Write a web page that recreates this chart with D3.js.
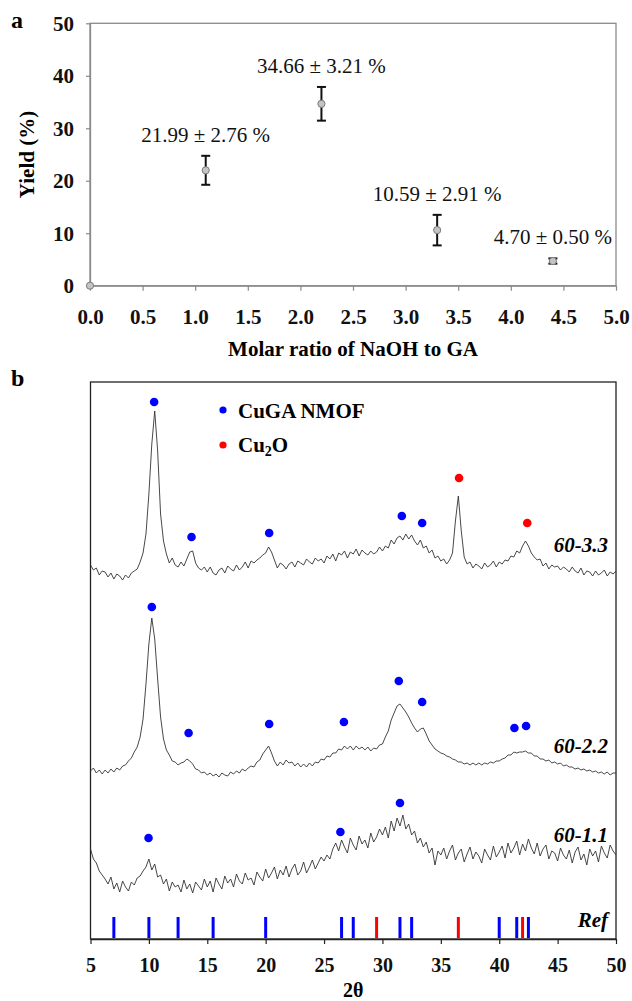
<!DOCTYPE html>
<html>
<head>
<meta charset="utf-8">
<script src="https://cdn.jsdelivr.net/npm/d3@7"></script>
<style>
  body { margin: 0; background: white; }
  svg { display: block; font-family: "Liberation Serif", "Times New Roman", serif; }
</style>
</head>
<body>
<div id="fig"></div>
<script>
let w = 632;
let h = 1001;

// ---- panel a : yield vs molar ratio
let ratio = [0, 1.1, 2.2, 3.3, 4.4];
let yieldPct = [0, 21.99, 34.66, 10.59, 4.70];
let yieldErr = [0, 2.76, 3.21, 2.91, 0.50];
let yieldLabels = ["", "21.99 ± 2.76 %", "34.66 ± 3.21 %", "10.59 ± 2.91 %", "4.70 ± 0.50 %"];
let ratioTicks = [0, 0.5, 1, 1.5, 2, 2.5, 3, 3.5, 4, 4.5, 5];
let yieldTicks = [0, 10, 20, 30, 40, 50];

// ---- panel b : XRD patterns (stacked intensity, a.u.), 2θ from 5 to 50 step 0.25
let thetaStart = 5;
let thetaStep = 0.25;
let xrd33 = [
  374,369,371,364,368,367,362,366,360,365,363,359,364,361,366,368,370,377,386,405,
  445,495,528,488,425,398,385,376,381,374,372,377,373,380,387,388,376,371,369,372,
  367,372,366,364,369,371,366,373,370,368,374,369,372,377,371,378,376,379,381,384,
  386,392,387,379,371,376,374,370,375,377,372,378,376,374,380,377,375,381,378,380,
  376,383,380,385,378,386,384,388,381,387,385,390,383,389,386,384,388,385,387,392,
  388,393,391,399,395,401,403,399,405,400,404,398,394,399,391,393,386,389,381,383,
  378,380,375,379,386,418,443,408,382,375,377,371,375,373,370,376,372,374,378,372,
  377,375,379,378,383,382,388,386,393,398,393,386,382,379,380,373,376,370,374,372,
  373,369,372,370,367,372,368,366,371,364,368,367,363,368,364,366,369,363,367,365,
  368
];
let xrd22 = [
  168,171,166,169,165,169,166,170,167,171,169,173,174,178,181,187,192,202,220,255,
  295,321,300,260,222,200,189,184,178,177,174,176,177,180,178,175,170,169,166,167,
  164,166,163,165,162,166,164,163,167,165,168,166,170,168,171,173,172,177,179,185,
  189,193,186,178,173,177,174,179,176,177,173,176,172,175,172,176,173,177,176,180,
  179,183,182,186,186,190,189,193,190,193,189,193,190,192,189,192,188,191,190,194,
  195,202,208,219,226,233,235,231,227,222,216,211,207,210,211,205,198,194,190,188,
  186,185,183,182,180,179,177,177,175,176,174,176,174,176,174,176,175,177,176,178,
  178,180,181,184,184,187,186,187,187,188,186,186,183,183,180,180,178,179,176,177,
  175,176,173,174,172,172,170,171,169,170,168,169,167,168,166,167,165,167,164,166,
  166
];
let xrd11 = [
  90,80,76,68,64,60,55,62,50,56,47,58,52,48,57,54,61,63,68,72,
  80,69,75,62,64,55,60,48,57,52,54,47,59,50,55,46,57,53,49,60,
  52,58,47,61,55,50,63,56,60,52,65,58,55,66,59,61,54,67,62,58,
  70,61,66,72,60,69,64,73,62,70,75,64,68,77,66,72,79,70,76,82,
  78,84,80,90,96,88,99,92,86,101,94,89,103,95,99,91,106,97,102,110,
  104,112,101,118,108,121,113,124,110,115,104,108,96,101,92,97,86,91,74,88,
  84,91,80,88,94,79,86,90,77,85,92,80,87,83,76,90,84,79,93,82,
  87,93,81,96,86,91,98,84,95,88,100,91,85,96,83,90,94,80,88,86,
  78,91,84,80,89,76,87,92,79,85,74,90,83,88,77,93,86,81,94,88,
  84
];
let sampleNames = ["60-3.3", "60-2.2", "60-1.1", "Ref"];

// peak markers [2θ, level]
let mof33 = [[10.45, 537], [13.65, 402], [20.3, 406], [31.66, 423], [33.4, 416]];
let cu2o33 = [[36.56, 461], [42.4, 416]];
let mof22 = [[10.25, 332], [13.4, 206], [20.3, 215], [26.7, 217], [31.4, 258], [33.4, 237], [41.3, 211], [42.3, 213]];
let mof11 = [[9.97, 101], [26.4, 107], [31.5, 136]];

// reference lines
let refMof = [7, 10, 12.5, 15.5, 20, 26.5, 27.5, 31.5, 32.5, 40, 41.5, 42.5];
let refCu2O = [29.5, 36.5, 42];
let thetaTicks = [5, 10, 15, 20, 25, 30, 35, 40, 45, 50];

let blue = "#0000ff";
let red = "#ff0000";

let svg = d3.select("#fig")
  .append("svg")
  .attr("width", w)
  .attr("height", h)
  .attr("viewBox", "0 0 " + w + " " + h);

// ================= panel a
let xA = d3.scaleLinear().domain([0, 5]).range([90, 616]);
let yA = d3.scaleLinear().domain([0, 50]).range([285.7, 23.3]);

let gA = svg.append("g");

gA.append("rect")
  .attr("x", xA(0))
  .attr("y", yA(50))
  .attr("width", xA(5) - xA(0))
  .attr("height", yA(0) - yA(50))
  .attr("fill", "none")
  .attr("stroke", "#8a8a8a")
  .attr("stroke-width", 1.3);

let axXA = gA.append("g")
  .attr("transform", "translate(0," + yA(0) + ")")
  .call(d3.axisBottom(xA).tickValues(ratioTicks).tickFormat(d3.format(".1f")).tickSize(5).tickSizeOuter(0));

let axYA = gA.append("g")
  .attr("transform", "translate(" + xA(0) + ",0)")
  .call(d3.axisLeft(yA).tickValues(yieldTicks).tickSize(4).tickSizeOuter(0));

[axXA, axYA].forEach(ax => {
  ax.attr("font-family", null).attr("font-size", null);
  ax.select(".domain").attr("stroke", "#8a8a8a").attr("stroke-width", 1.3);
  ax.selectAll(".tick line").attr("stroke", "#8a8a8a").attr("stroke-width", 1.2);
  ax.selectAll("text")
    .attr("fill", "#111")
    .style("font-size", "21px")
    .style("font-weight", "bold");
});
axXA.selectAll("text").attr("y", 38).attr("dy", 0);
axYA.selectAll("text").attr("x", -16).attr("dy", "0.34em");

// error bars
let errG = gA.append("g").attr("stroke", "#111").attr("stroke-width", 2);
ratio.forEach((r, i) => {
  if (yieldErr[i] <= 0) return;
  let x = xA(r);
  let y0 = yA(yieldPct[i] - yieldErr[i]);
  let y1 = yA(yieldPct[i] + yieldErr[i]);
  errG.append("line").attr("x1", x).attr("x2", x).attr("y1", y0).attr("y2", y1);
  errG.append("line").attr("x1", x - 4.5).attr("x2", x + 4.5).attr("y1", y0).attr("y2", y0);
  errG.append("line").attr("x1", x - 4.5).attr("x2", x + 4.5).attr("y1", y1).attr("y2", y1);
});

gA.selectAll(".pt")
  .data(ratio)
  .enter()
  .append("circle")
  .attr("class", "pt")
  .attr("cx", d => xA(d))
  .attr("cy", (d, i) => yA(yieldPct[i]))
  .attr("r", 3.6)
  .attr("fill", "#c4c4c4")
  .attr("stroke", "#7a7a7a")
  .attr("stroke-width", 1);

gA.selectAll(".val")
  .data(ratio)
  .enter()
  .append("text")
  .attr("class", "val")
  .attr("x", d => xA(d))
  .attr("y", (d, i) => yA(yieldPct[i] + yieldErr[i]) - 14)
  .attr("text-anchor", "middle")
  .style("font-size", "21px")
  .attr("fill", "#111")
  .text((d, i) => yieldLabels[i]);

gA.append("text")
  .attr("transform", "translate(34," + ((yA(0) + yA(50)) / 2) + ") rotate(-90)")
  .attr("text-anchor", "middle")
  .style("font-size", "21px")
  .style("font-weight", "bold")
  .text("Yield (%)");

gA.append("text")
  .attr("x", (xA(0) + xA(5)) / 2)
  .attr("y", 356)
  .attr("text-anchor", "middle")
  .style("font-size", "21px")
  .style("font-weight", "bold")
  .text("Molar ratio of NaOH to GA");

svg.append("text")
  .attr("x", 11)
  .attr("y", 28)
  .style("font-size", "24px")
  .style("font-weight", "bold")
  .text("a");

// ================= panel b
let xB = d3.scaleLinear().domain([5, 50]).range([90.5, 616]);
let yB = d3.scaleLinear().domain([0, 557]).range([939, 382]);

let gB = svg.append("g");

gB.append("rect")
  .attr("x", xB(5))
  .attr("y", yB(557))
  .attr("width", xB(50) - xB(5))
  .attr("height", yB(0) - yB(557))
  .attr("fill", "none")
  .attr("stroke", "#222")
  .attr("stroke-width", 1.3);

let axXB = gB.append("g")
  .attr("transform", "translate(0," + yB(0) + ")")
  .call(d3.axisBottom(xB).tickValues(thetaTicks).tickSize(5).tickSizeOuter(0));
axXB.attr("font-family", null).attr("font-size", null);
axXB.select(".domain").attr("stroke", "#222").attr("stroke-width", 1.3);
axXB.selectAll(".tick line").attr("stroke", "#222").attr("stroke-width", 1.2);
axXB.selectAll("text")
  .attr("y", 33)
  .attr("dy", 0)
  .attr("fill", "#111")
  .style("font-size", "20px")
  .style("font-weight", "bold");

let line = d3.line()
  .x((d, i) => xB(thetaStart + i * thetaStep))
  .y(d => yB(d));

[xrd33, xrd22, xrd11].forEach(s => {
  gB.append("path")
    .datum(s)
    .attr("d", line)
    .attr("fill", "none")
    .attr("stroke", "#333")
    .attr("stroke-width", 0.9)
    .attr("stroke-linejoin", "round");
});

// reference sticks
gB.selectAll(".refMof")
  .data(refMof)
  .enter()
  .append("line")
  .attr("x1", d => xB(d)).attr("x2", d => xB(d))
  .attr("y1", yB(22)).attr("y2", yB(1))
  .attr("stroke", blue)
  .attr("stroke-width", 3);
gB.selectAll(".refCu")
  .data(refCu2O)
  .enter()
  .append("line")
  .attr("x1", d => xB(d)).attr("x2", d => xB(d))
  .attr("y1", yB(22)).attr("y2", yB(1))
  .attr("stroke", red)
  .attr("stroke-width", 3);

// peak markers
let markers = [[mof33, blue], [cu2o33, red], [mof22, blue], [mof11, blue]];
markers.forEach(m => {
  gB.selectAll(null)
    .data(m[0])
    .enter()
    .append("circle")
    .attr("cx", d => xB(d[0]))
    .attr("cy", d => yB(d[1]))
    .attr("r", 4.3)
    .attr("fill", m[1]);
});

// sample names
let nameLevels = [387, 186, 97, 12];
gB.selectAll(".sname")
  .data(sampleNames)
  .enter()
  .append("text")
  .attr("x", 608)
  .attr("y", (d, i) => yB(nameLevels[i]))
  .attr("text-anchor", "end")
  .style("font-size", "21px")
  .style("font-weight", "bold")
  .style("font-style", "italic")
  .text(d => d);

// legend
let leg = gB.append("g").attr("transform", "translate(223,410)");
leg.append("circle").attr("cx", 0).attr("cy", 0).attr("r", 3.6).attr("fill", blue);
leg.append("text").attr("x", 15).attr("y", 8)
  .style("font-size", "21px").style("font-weight", "bold").text("CuGA NMOF");
leg.append("circle").attr("cx", 0).attr("cy", 35).attr("r", 3.6).attr("fill", red);
let cuText = leg.append("text").attr("x", 15).attr("y", 42)
  .style("font-size", "21px").style("font-weight", "bold");
cuText.append("tspan").text("Cu");
cuText.append("tspan").attr("dy", 4).style("font-size", "14px").text("2");
cuText.append("tspan").attr("dy", -4).text("O");

gB.append("text")
  .attr("x", (xB(5) + xB(50)) / 2)
  .attr("y", 997)
  .attr("text-anchor", "middle")
  .style("font-size", "20px")
  .style("font-weight", "bold")
  .text("2θ");

svg.append("text")
  .attr("x", 11)
  .attr("y", 386)
  .style("font-size", "24px")
  .style("font-weight", "bold")
  .text("b");
</script>
</body>
</html>
